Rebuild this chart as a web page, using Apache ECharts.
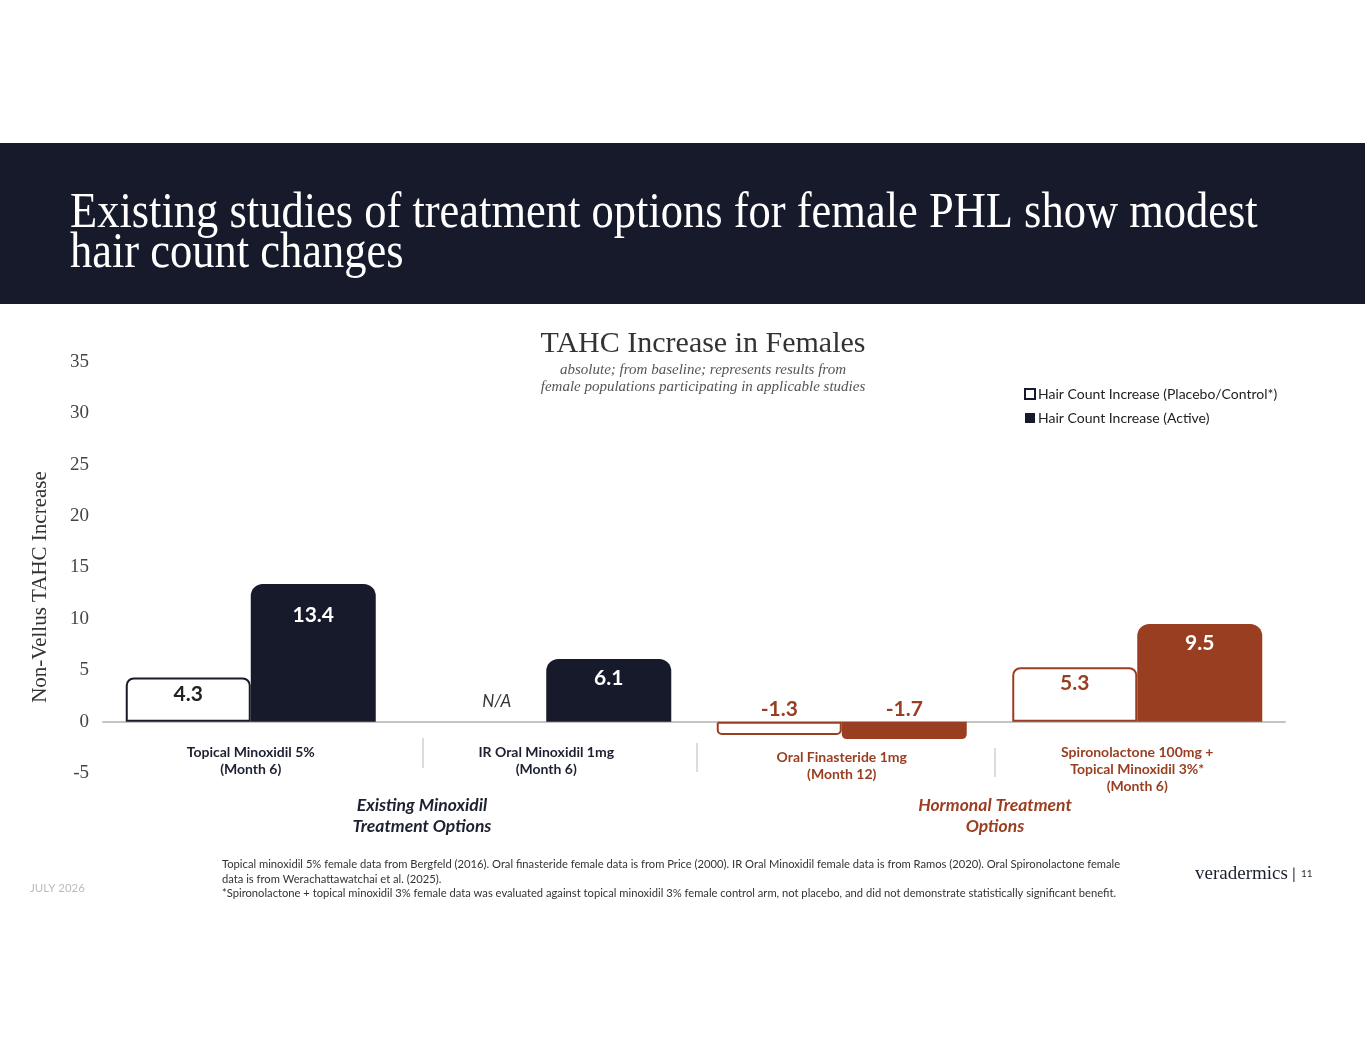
<!DOCTYPE html>
<html>
<head>
<meta charset="utf-8">
<script src="https://cdn.jsdelivr.net/npm/echarts@6/dist/echarts.min.js"></script>
<style>
html,body{margin:0;padding:0;background:#fff;}
#chart{width:1365px;height:1055px;}
</style>
</head>
<body>
<div id="chart"></div>
<script>
// ---- data ----
const categories = [
  'Topical Minoxidil 5%\n(Month 6)',
  'IR Oral Minoxidil 1mg\n(Month 6)',
  'Oral Finasteride 1mg\n(Month 12)',
  'Spironolactone 100mg +\nTopical Minoxidil 3%*\n(Month 6)'
];
const placeboValues = [4.3, null, -1.3, 5.3];   // null = N/A
const activeValues = [13.4, 6.1, -1.7, 9.5];
const yTickLabels = ['-5', '0', '5', '10', '15', '20', '25', '30', '35'];
const seriesNames = ['Hair Count Increase (Placebo/Control*)', 'Hair Count Increase (Active)'];
const groupLabels = ['Existing Minoxidil\nTreatment Options', 'Hormonal Treatment\nOptions'];

// ---- styles ----
const NAVY = '#161a2b';
const RUST = '#9a3e21';
const groupColor = [NAVY, NAVY, RUST, RUST];
const SANS = 'Lato';
const SERIF = 'Liberation Serif';

const placeboData = placeboValues.map((v, i) => {
  const c = groupColor[i];
  if (v === null) {
    return {
      value: 0,
      itemStyle: { color: 'transparent', borderWidth: 0 },
      label: { show: true, position: 'top', formatter: 'N/A', fontStyle: 'italic', fontWeight: 'normal',
               color: '#333', fontSize: 17, offset: [13, -7] }
    };
  }
  const neg = v < 0;
  return {
    value: v,
    itemStyle: { color: '#fff', borderColor: c, borderWidth: 2,
                 borderRadius: neg ? [0, 0, 4, 4] : [7, 7, 0, 0] },
    label: neg ? { position: 'top', distance: 2, color: c } : { position: 'insideTop', distance: 6, color: c === NAVY ? '#222' : c }
  };
});
const activeData = activeValues.map((v, i) => {
  const c = groupColor[i];
  const neg = v < 0;
  return {
    value: v,
    itemStyle: { color: c, borderRadius: neg ? [0, 0, 5, 5] : [12, 12, 0, 0] },
    label: neg ? { position: 'top', distance: 2, color: c }
               : { position: 'insideTop', distance: v > 12 ? 21 : 9, color: '#fff' }
  };
});

const chart = echarts.init(document.getElementById('chart'), null, { renderer: 'canvas' });
chart.setOption({
  backgroundColor: '#fff',
  animation: false,
  grid: { left: 103, right: 80, top: 362, bottom: 282, containLabel: false },
  legend: {
    orient: 'vertical', left: 1019, top: 382, itemWidth: 10, itemHeight: 10, itemGap: 10,
    icon: 'rect',
    textStyle: { fontFamily: SANS, fontSize: 14, color: '#222', padding: [0, 0, 0, -2] },
    data: seriesNames
  },
  xAxis: {
    type: 'category',
    data: categories.map((c, i) => ({
      value: c,
      textStyle: { color: groupColor[i] === NAVY ? '#1d2030' : RUST, padding: i === 2 ? [5, 0, 0, 0] : [0, 0, 0, 0] }
    })),
    axisLine: { onZero: true, lineStyle: { color: '#c4c4c4', width: 2 } },
    axisTick: { show: false },
    axisLabel: { interval: 0, margin: -29, fontFamily: SANS, fontWeight: 'bold', fontSize: 14, lineHeight: 17 }
  },
  yAxis: {
    type: 'value', min: -5, max: 35, interval: 5,
    axisLine: { show: false }, axisTick: { show: false }, splitLine: { show: false },
    axisLabel: { margin: 14, fontFamily: SERIF, fontSize: 19, color: '#444',
                 formatter: (v) => yTickLabels[Math.round((v + 5) / 5)] }
  },
  series: [
    {
      name: seriesNames[0], type: 'bar', barWidth: 125, barGap: '0%',
      itemStyle: { color: '#fff', borderColor: NAVY, borderWidth: 2 },
      label: { show: true, fontFamily: SANS, fontWeight: 'bold', fontSize: 21 },
      data: placeboData
    },
    {
      name: seriesNames[1], type: 'bar', barWidth: 125, barGap: '0%',
      itemStyle: { color: NAVY },
      label: { show: true, fontFamily: SANS, fontWeight: 'bold', fontSize: 21 },
      data: activeData
    }
  ],
  graphic: [
    { type: 'rect', shape: { x: 0, y: 143, width: 1365, height: 161 }, style: { fill: '#171a2b' }, silent: true },
    { type: 'text', x: 70, y: 239, scaleX: 0.89, style: { text: 'Existing studies of treatment options for female PHL show modest',
        fill: '#fff', font: '50px "Liberation Serif"', textVerticalAlign: 'bottom' } },
    { type: 'text', x: 70, y: 279, scaleX: 0.89, style: { text: 'hair count changes',
        fill: '#fff', font: '50px "Liberation Serif"', textVerticalAlign: 'bottom' } },
    { type: 'text', x: 703, y: 344, style: { text: 'TAHC Increase in Females', fill: '#333',
        font: '30px "Liberation Serif"', textAlign: 'center', textVerticalAlign: 'middle' } },
    { type: 'text', x: 703, y: 379, style: { text: 'absolute; from baseline; represents results from\nfemale populations participating in applicable studies',
        fill: '#555', font: 'italic 15px "Liberation Serif"', lineHeight: 17, textAlign: 'center', textVerticalAlign: 'middle' } },
    { type: 'text', x: 40, y: 587, rotation: Math.PI / 2, style: { text: 'Non-Vellus TAHC Increase', fill: '#333',
        font: '21px "Liberation Serif"', textAlign: 'center', textVerticalAlign: 'middle' } },
    { type: 'line', shape: { x1: 423, y1: 738, x2: 423, y2: 768 }, style: { stroke: '#d0d0d0', lineWidth: 1.5 } },
    { type: 'line', shape: { x1: 697, y1: 743, x2: 697, y2: 772 }, style: { stroke: '#d0d0d0', lineWidth: 1.5 } },
    { type: 'line', shape: { x1: 995, y1: 748, x2: 995, y2: 777 }, style: { stroke: '#d0d0d0', lineWidth: 1.5 } },
    { type: 'text', x: 422, y: 816, style: { text: groupLabels[0], fill: '#1d2030',
        font: 'italic bold 17.5px Lato', lineHeight: 21, textAlign: 'center', textVerticalAlign: 'middle' } },
    { type: 'text', x: 995, y: 816, style: { text: groupLabels[1], fill: RUST,
        font: 'italic bold 17.5px Lato', lineHeight: 21, textAlign: 'center', textVerticalAlign: 'middle' } },
    { type: 'text', x: 30, y: 888, style: { text: 'JULY 2026', fill: '#bbb', font: '11.5px Lato', textVerticalAlign: 'middle' } },
    { type: 'text', x: 222, y: 879, style: {
        text: 'Topical minoxidil 5% female data from Bergfeld (2016). Oral finasteride female data is from Price (2000). IR Oral Minoxidil female data is from Ramos (2020). Oral Spironolactone female\ndata is from Werachattawatchai et al. (2025).\n*Spironolactone + topical minoxidil 3% female data was evaluated against topical minoxidil 3% female control arm, not placebo, and did not demonstrate statistically significant benefit.',
        fill: '#333', font: '11.2px Lato', lineHeight: 14.5, textVerticalAlign: 'middle' } },
    { type: 'text', x: 1195, y: 874, style: { text: 'veradermics', fill: '#1d2030', font: '19px "Liberation Serif"', textVerticalAlign: 'middle' } },
    { type: 'text', x: 1292, y: 874, style: { text: '|', fill: '#1d2030', font: '15px Lato', textVerticalAlign: 'middle' } },
    { type: 'text', x: 1301, y: 874, style: { text: '11', fill: '#333', font: '10px Lato', textVerticalAlign: 'middle' } }
  ]
});
</script>
</body>
</html>
